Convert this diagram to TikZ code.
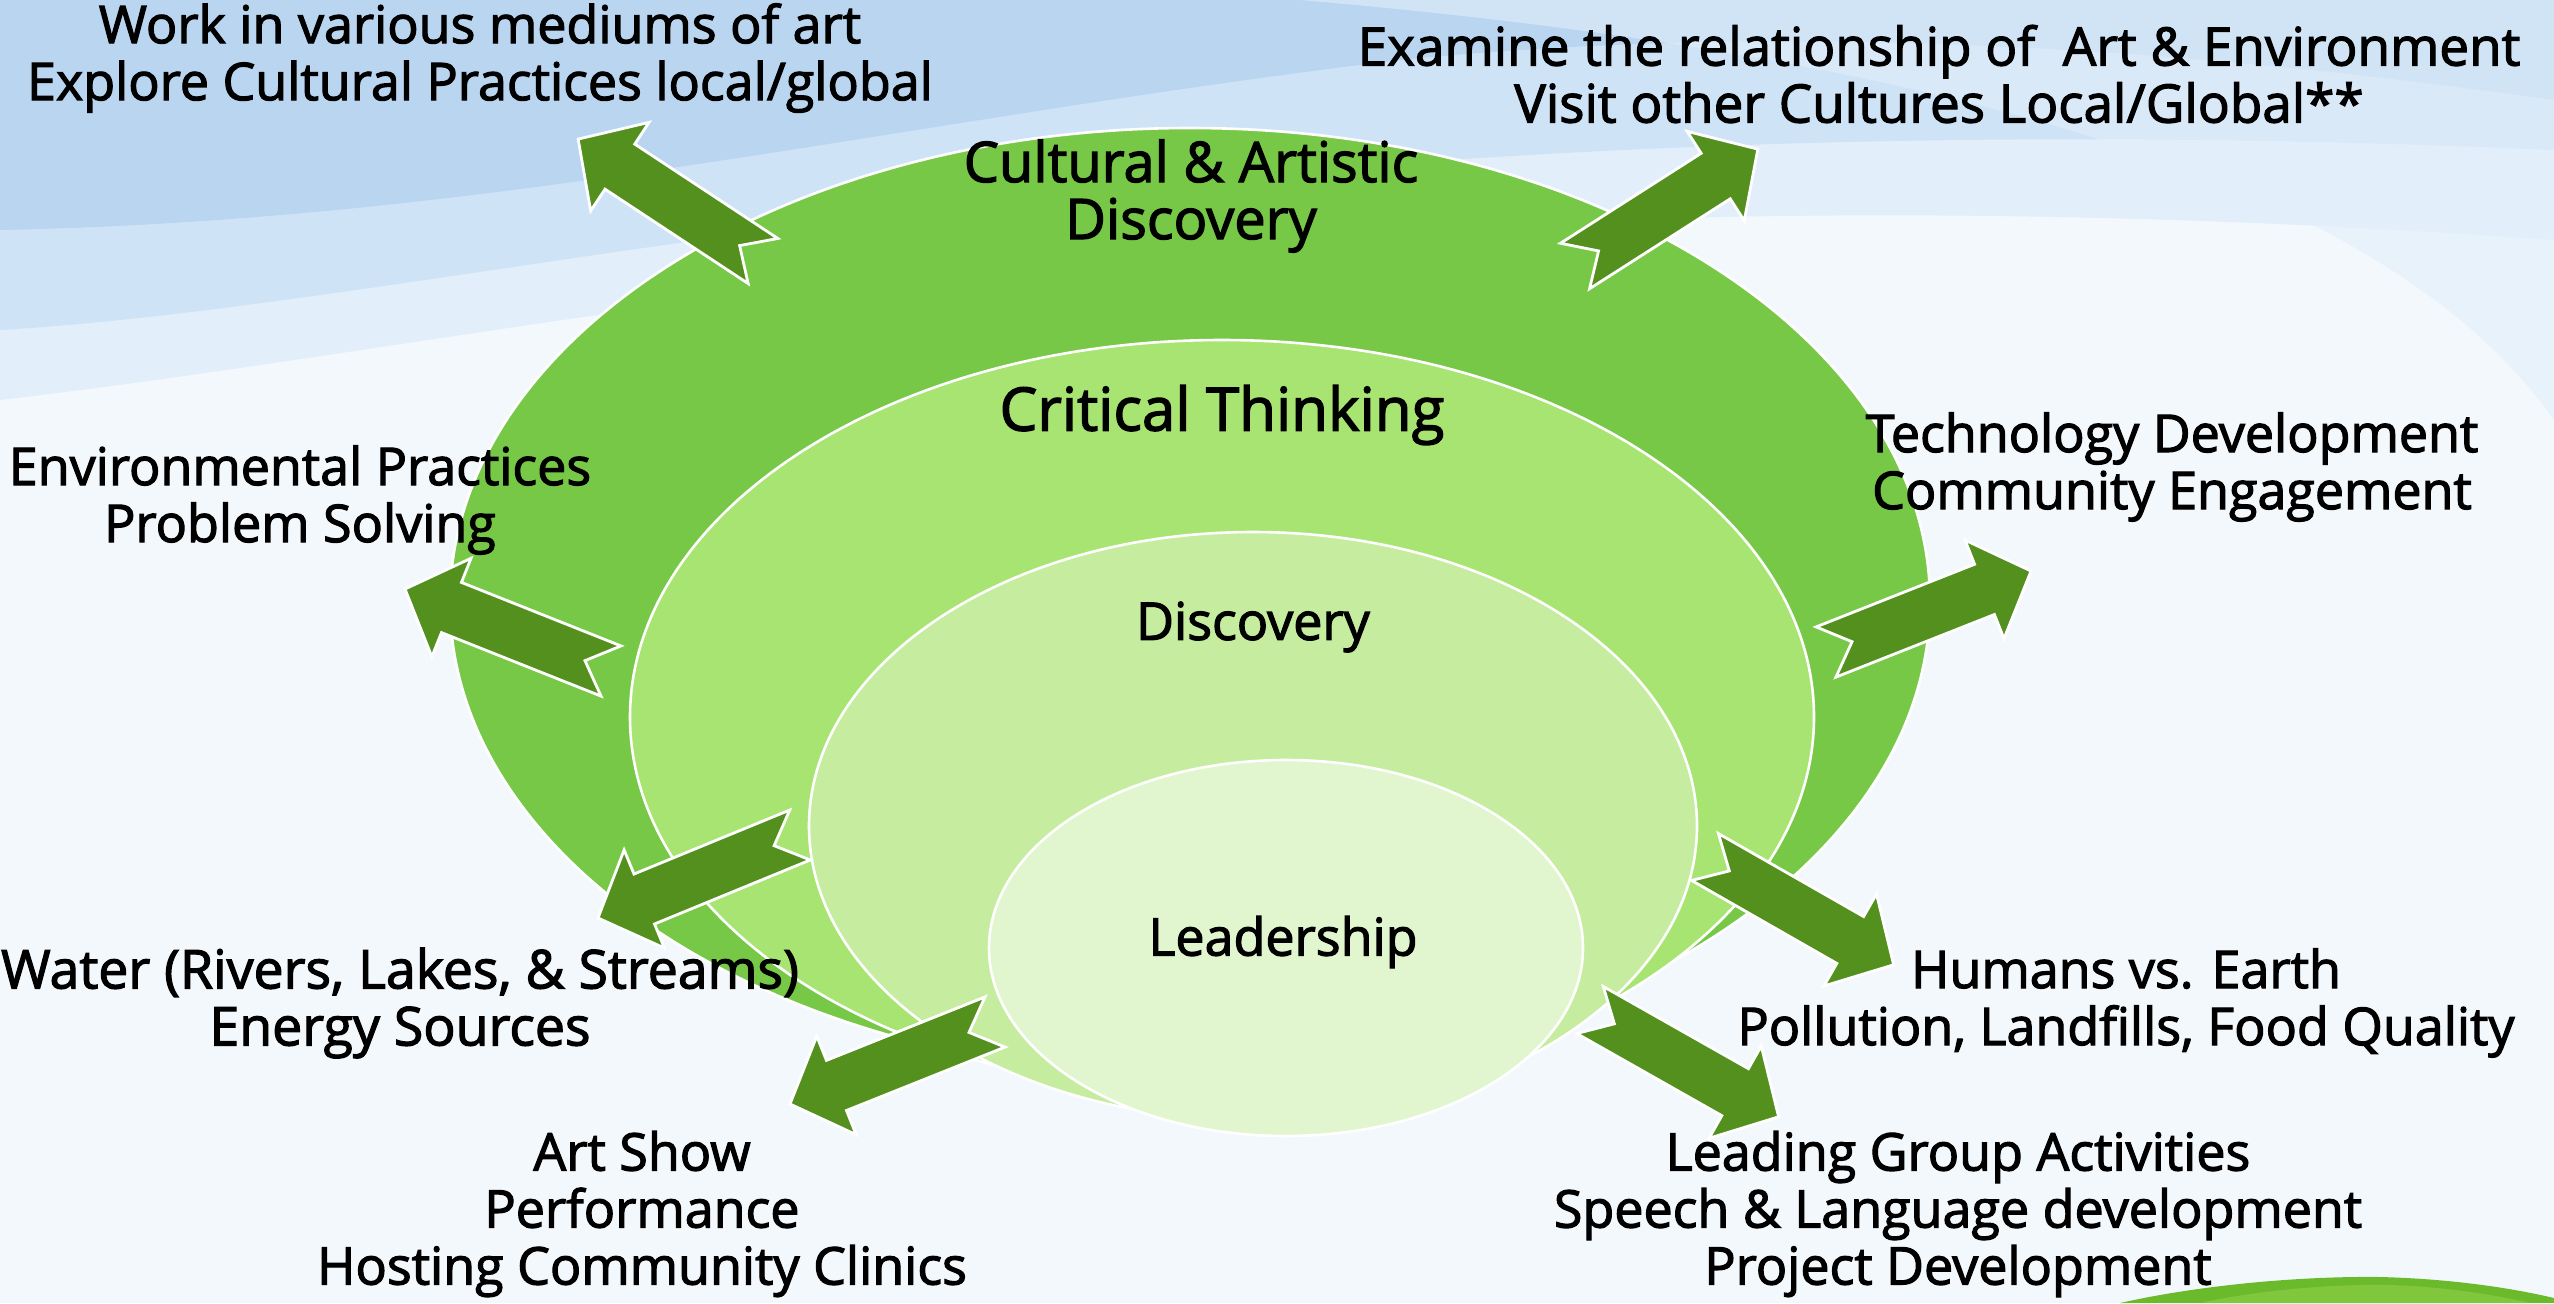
\documentclass[tikz,border=0pt]{standalone}
\usepackage{fontspec}
\setmainfont{Open Sans}[FakeBold=2.2]
\usetikzlibrary{calc}
\definecolor{bgbase}{HTML}{F3F8FD}
\definecolor{waveA}{HTML}{E2EEFA}
\definecolor{waveB}{HTML}{CFE3F6}
\definecolor{waveC}{HTML}{B9D5F0}
\definecolor{ringA}{HTML}{76C846}
\definecolor{ringB}{HTML}{A8E472}
\definecolor{ringC}{HTML}{C6ECA0}
\definecolor{ringD}{HTML}{E1F6CE}
\definecolor{arrowgreen}{HTML}{53901D}
\definecolor{hillgreen}{HTML}{6BBA2C}
\definecolor{hilllight}{HTML}{8FD04A}
\tikzset{
  ring/.style={draw=white, line width=1.3pt},
  notched/.style={fill=arrowgreen, draw=white, line width=1.4pt, line join=miter},
  lbl/.style={align=center, inner sep=0pt, font=\fontsize{26}{28.5}\selectfont, text=black},
}
\newcommand\notchedarrow[2]{%
  \path let \p1=($(#2)-(#1)$), \n1={atan2(\y1,\x1)}, \n2={veclen(\x1,\y1)} in
    \pgfextra{\xdef\NAang{\n1}\xdef\NAlen{\n2}};
  \begin{scope}[shift={(#1)}, rotate=\NAang]
    \draw[notched] (0pt,13.5pt) -- (14pt,0pt) -- (0pt,-13.5pt)
      -- ({\NAlen-25pt},-13.5pt) -- ({\NAlen-25pt},-26.5pt)
      -- (\NAlen,0pt) -- ({\NAlen-25pt},26.5pt)
      -- ({\NAlen-25pt},13.5pt) -- cycle;
  \end{scope}}
\begin{document}
\begin{tikzpicture}[x=0.5pt,y=-0.5pt]
\useasboundingbox (0,0) rectangle (2554,1303);
% background
\fill[bgbase] (0,0) rectangle (2554,1303);
\fill[waveA] (0,0) -- (0,400) .. controls (600,330) and (1300,150) .. (2554,240) -- (2554,0) -- cycle;
\fill[waveB] (0,0) -- (0,330) .. controls (500,300) and (1200,90) .. (2554,150) -- (2554,0) -- cycle;
\fill[waveC] (0,0) -- (0,230) .. controls (500,220) and (900,120) .. (1400,60) .. controls (1800,20) and (2200,50) .. (2554,100) -- (2554,0) -- cycle;
\fill[waveA, opacity=0.6] (1300,0) .. controls (2000,60) and (2400,200) .. (2554,420) -- (2554,0) -- cycle;
% hill
\fill[hillgreen] (2120,1303) .. controls (2200,1285) and (2300,1276) .. (2380,1277) .. controls (2460,1279) and (2520,1290) .. (2554,1298) -- (2554,1303) -- cycle;
\fill[hilllight, opacity=0.6] (2200,1303) .. controls (2260,1290) and (2330,1284) .. (2390,1285) .. controls (2450,1287) and (2500,1296) .. (2530,1303) -- cycle;
% nested ellipses
\coordinate (cA) at (1190,602);
\coordinate (cB) at (1222,717);
\coordinate (cC) at (1253,826);
\coordinate (cD) at (1286,948);
\draw[ring, fill=ringA] (cA) ellipse [x radius=370pt, y radius=237pt];
\draw[ring, fill=ringB] (cB) ellipse [x radius=296pt, y radius=188.5pt];
\draw[ring, fill=ringC] (cC) ellipse [x radius=222pt, y radius=147pt];
\draw[ring, fill=ringD] (cD) ellipse [x radius=148.5pt, y radius=94pt];
% arrow coordinates
\coordinate (t1) at (763,261);  \coordinate (p1) at (578,139);
\coordinate (t2) at (1575,266); \coordinate (p2) at (1758,149);
\coordinate (t3) at (611,671);  \coordinate (p3) at (405,589);
\coordinate (t4) at (1826,652); \coordinate (p4) at (2031,571);
\coordinate (t5) at (800,835);  \coordinate (p5) at (598,918);
\coordinate (t6) at (995,1022); \coordinate (p6) at (790,1104);
\coordinate (t7) at (1705,857); \coordinate (p7) at (1894,965);
\coordinate (t8) at (1590,1010);\coordinate (p8) at (1779,1117);
\notchedarrow{t1}{p1}
\notchedarrow{t2}{p2}
\notchedarrow{t3}{p3}
\notchedarrow{t4}{p4}
\notchedarrow{t5}{p5}
\notchedarrow{t6}{p6}
\notchedarrow{t7}{p7}
\notchedarrow{t8}{p8}
% ring labels
\node[lbl, font=\fontsize{28}{28.5}\selectfont] (ca) at (1191,196) {Cultural \& Artistic\\Discovery};
\node[lbl, font=\fontsize{30}{30}\selectfont] (ct) at (1222,415) {Critical Thinking};
\node[lbl] (dc) at (1253,627) {Discovery};
\node[lbl] (ld) at (1283,942) {Leadership};
% outer labels
\node[lbl] (l1) at (480,58) {Work in various mediums of art\\Explore Cultural Practices local/global};
\node[lbl, font=\fontsize{26.5}{28.5}\selectfont] (l2) at (1939,74) {Examine the relationship of\ \ Art \& Environment\\Visit other Cultures Local/Global**};
\node[lbl] (l7) at (300,500) {Environmental Practices\\Problem Solving};
\node[lbl] (l8) at (2172,467) {Technology Development\\Community Engagement};
\node[lbl, font=\fontsize{26.8}{28.5}\selectfont] (l9) at (400,1003) {Water (Rivers, Lakes, \& Streams)\\Energy Sources};
\node[lbl] (l10) at (2126,1003) {Humans vs. Earth\\Pollution, Landfills, Food Quality};
\node[lbl] (l11) at (642,1214) {Art Show\\Performance\\Hosting Community Clinics};
\node[lbl] (l12) at (1958,1214) {Leading Group Activities\\Speech \& Language development\\Project Development};
\end{tikzpicture}
\end{document}
